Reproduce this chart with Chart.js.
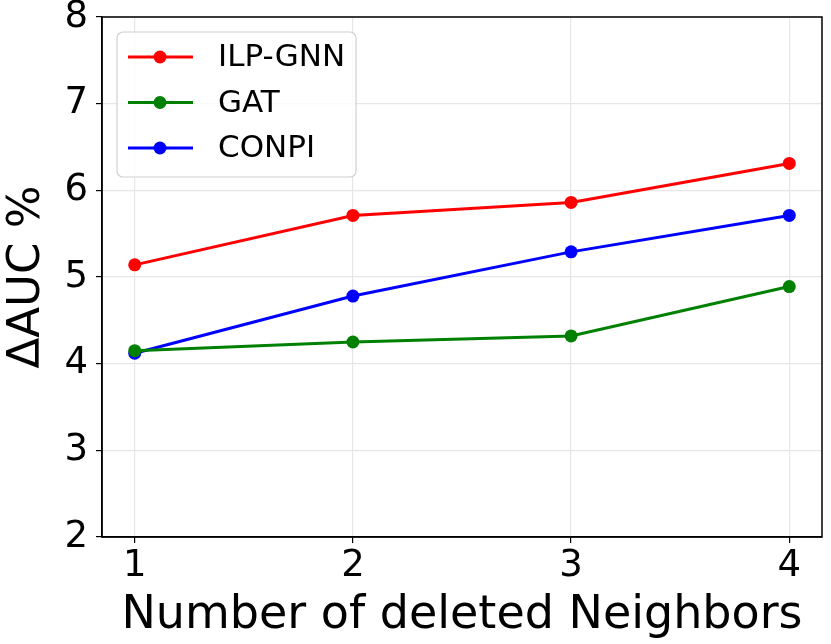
<!DOCTYPE html>
<html lang="en">
<head>
    <meta charset="UTF-8">
    <title>Delta AUC vs deleted neighbors</title>
    <script src="https://cdn.jsdelivr.net/npm/chart.js"></script>
    <style>
        html, body { margin: 0; padding: 0; background: #fff; }
        #wrap { width: 831px; height: 644px; }
    </style>
</head>
<body>
    <div id="wrap"><canvas id="myChart" width="831" height="644"></canvas></div>
    <script>
        const neighbors = [1, 2, 3, 4];
        const ilpGnn = [5.14, 5.71, 5.86, 6.31];
        const gat = [4.15, 4.25, 4.32, 4.89];
        const conpi = [4.12, 4.78, 5.29, 5.71];
        const yTicks = [2, 3, 4, 5, 6, 7, 8];

        const font = "'DejaVu Sans', sans-serif";

        function series(label, values, color) {
            return {
                label: label,
                data: neighbors.map((x, i) => ({ x: x, y: values[i] })),
                borderColor: color,
                backgroundColor: color,
                borderWidth: 3,
                pointRadius: 6.5,
                pointHoverRadius: 6.5,
                pointBorderWidth: 0,
                tension: 0
            };
        }

        // matplotlib-like frame and legend
        const frameAndLegend = {
            id: 'frameAndLegend',
            afterDatasetsDraw(chart) {
                const { ctx, chartArea: a } = chart;
                ctx.save();
                ctx.strokeStyle = '#000';
                ctx.lineWidth = 1.5;
                ctx.strokeRect(a.left, a.top, a.right - a.left, a.bottom - a.top);

                const bx = 117, by = 32, bw = 239, bh = 145, r = 6;
                ctx.beginPath();
                ctx.roundRect(bx, by, bw, bh, r);
                ctx.fillStyle = 'rgba(255,255,255,0.8)';
                ctx.fill();
                ctx.strokeStyle = '#d0d0d0';
                ctx.lineWidth = 1.2;
                ctx.stroke();

                ctx.font = '31px ' + font;
                ctx.textBaseline = 'middle';
                chart.data.datasets.forEach((ds, i) => {
                    const y = by + 25 + i * 45.5;
                    ctx.strokeStyle = ds.borderColor;
                    ctx.lineWidth = 3;
                    ctx.beginPath();
                    ctx.moveTo(128, y);
                    ctx.lineTo(193, y);
                    ctx.stroke();
                    ctx.fillStyle = ds.borderColor;
                    ctx.beginPath();
                    ctx.arc(160, y, 6.5, 0, Math.PI * 2);
                    ctx.fill();
                    ctx.fillStyle = '#000';
                    ctx.fillText(ds.label, 218, y + 1);
                });
                ctx.restore();
            }
        };

        const ctx = document.getElementById('myChart').getContext('2d');
        const myChart = new Chart(ctx, {
            type: 'line',
            data: {
                datasets: [
                    series('ILP-GNN', ilpGnn, '#ff0000'),
                    series('GAT', gat, '#008000'),
                    series('CONPI', conpi, '#0000ff')
                ]
            },
            options: {
                responsive: false,
                animation: false,
                layout: { padding: { left: 0, right: 9, top: 17, bottom: 0 } },
                plugins: {
                    legend: { display: false },
                    tooltip: { enabled: false }
                },
                scales: {
                    x: {
                        type: 'linear',
                        min: 0.85,
                        max: 4.15,
                        afterBuildTicks(axis) {
                            axis.ticks = neighbors.map(v => ({ value: v }));
                        },
                        afterFit(axis) {
                            axis.height = 107;
                            axis.paddingLeft = 0;
                            axis.paddingRight = 0;
                        },
                        ticks: {
                            color: '#000',
                            font: { family: font, size: 37 },
                            padding: 1
                        },
                        grid: {
                            color: '#e6e6e6',
                            lineWidth: 1.2,
                            tickColor: '#000',
                            tickLength: 6
                        },
                        border: { color: '#000', width: 1.5 },
                        title: {
                            display: true,
                            text: 'Number of deleted Neighbors',
                            color: '#000',
                            font: { family: font, size: 46 },
                            padding: { top: 0, bottom: 0 }
                        }
                    },
                    y: {
                        min: 2,
                        max: 8,
                        afterBuildTicks(axis) {
                            axis.ticks = yTicks.map(v => ({ value: v }));
                        },
                        afterFit(axis) {
                            axis.width = 102;
                            axis.paddingTop = 0;
                            axis.paddingBottom = 0;
                        },
                        ticks: {
                            color: '#000',
                            font: { family: font, size: 37 },
                            padding: 8
                        },
                        grid: {
                            color: '#e6e6e6',
                            lineWidth: 1.2,
                            tickColor: '#000',
                            tickLength: 6
                        },
                        border: { color: '#000', width: 1.5 },
                        title: {
                            display: true,
                            text: 'ΔAUC %',
                            color: '#000',
                            font: { family: font, size: 45 },
                            padding: { top: 0, bottom: 0 }
                        }
                    }
                }
            },
            plugins: [frameAndLegend]
        });
    </script>
</body>
</html>
